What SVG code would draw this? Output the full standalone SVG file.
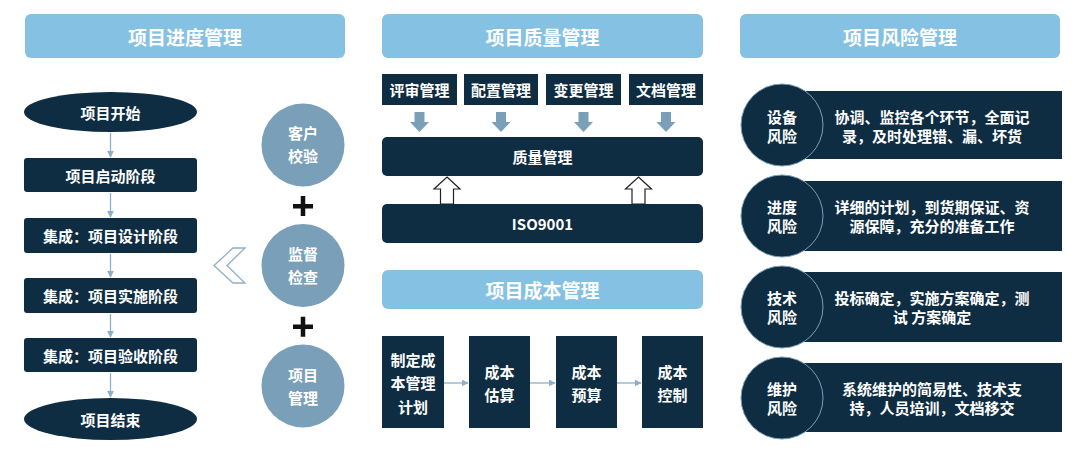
<svg xmlns="http://www.w3.org/2000/svg" width="1080" height="459" viewBox="0 0 1080 459">
<defs>
<style>
text{font-family:"Noto Sans CJK SC","Liberation Sans",sans-serif;font-weight:bold;fill:#fff;text-anchor:middle;dominant-baseline:central}
.hdr{fill:#85C1E3}
.hdr-t{font-size:19px}
.dark{fill:#0F2D42}
.t15{font-size:15px}
.t14{font-size:14.5px}
.circ{fill:#7A9FB8}
.risk-c{fill:#0F2D42;stroke:#7A9FB8;stroke-width:1}
.ln{stroke:#8FAFC6;stroke-width:1.3;fill:none}
.blk{fill:#7A9FB8}
.hol{fill:#fff;stroke:#222;stroke-width:1.2}
.plus{fill:#111}
</style>
<marker id="ah" viewBox="0 0 10 10" refX="9" refY="5" markerWidth="7" markerHeight="7" markerUnits="userSpaceOnUse" orient="auto">
<path d="M0,0 L10,5 L0,10 z" fill="#8FAFC6"/>
</marker>
</defs>
<rect width="1080" height="459" fill="#fff"/>

<!-- headers -->
<g id="hdr-schedule"><rect class="hdr" x="25" y="14" width="320" height="44" rx="6"/><text class="hdr-t" x="185" y="36">项目进度管理</text></g>
<g id="hdr-quality"><rect class="hdr" x="382" y="14" width="321" height="44" rx="6"/><text class="hdr-t" x="542.5" y="36">项目质量管理</text></g>
<g id="hdr-risk"><rect class="hdr" x="740" y="14" width="320" height="44" rx="6"/><text class="hdr-t" x="900" y="36">项目风险管理</text></g>

<!-- left column -->
<g id="start"><ellipse class="dark" cx="110.5" cy="112" rx="86.5" ry="20"/><text class="t15" x="110.5" y="112">项目开始</text></g>
<g id="phase1"><rect class="dark" x="24" y="158" width="173" height="34" rx="3"/><text class="t15" x="110.5" y="175">项目启动阶段</text></g>
<g id="phase2"><rect class="dark" x="24" y="218" width="173" height="35" rx="3"/><text class="t15" x="110.5" y="235.5">集成：项目设计阶段</text></g>
<g id="phase3"><rect class="dark" x="24" y="278" width="173" height="35" rx="3"/><text class="t15" x="110.5" y="295.5">集成：项目实施阶段</text></g>
<g id="phase4"><rect class="dark" x="24" y="338" width="173" height="34" rx="3"/><text class="t15" x="110.5" y="355">集成：项目验收阶段</text></g>
<g id="end"><ellipse class="dark" cx="110.5" cy="419" rx="86.5" ry="21"/><text class="t15" x="110.5" y="419">项目结束</text></g>

<g id="c1"><circle class="circ" cx="303" cy="145" r="41.5"/><text class="t15" x="303" y="132">客户</text><text class="t15" x="303" y="155">校验</text></g>
<g id="plus1"><rect class="plus" x="293" y="204" width="20" height="4.5"/><rect class="plus" x="300.75" y="196" width="4.5" height="20"/></g>
<g id="c2"><circle class="circ" cx="303" cy="265.5" r="41.5"/><text class="t15" x="303" y="253">监督</text><text class="t15" x="303" y="276">检查</text></g>
<g id="plus2"><rect class="plus" x="293" y="324.5" width="20" height="4.5"/><rect class="plus" x="300.75" y="316.75" width="4.5" height="20"/></g>
<g id="c3"><circle class="circ" cx="303" cy="386" r="41.5"/><text class="t15" x="303" y="374">项目</text><text class="t15" x="303" y="397">管理</text></g>
<g id="chevron"><polygon points="233,248 245,248 227,265.5 245,283 233,283 214,265.5" fill="#fff" stroke="#8FAFC6" stroke-width="1.3"/></g>

<!-- quality -->
<g id="q1"><rect class="dark" x="382" y="74" width="75" height="31"/><text class="t15" x="419.5" y="89.5">评审管理</text></g>
<g id="q2"><rect class="dark" x="464" y="74" width="74" height="31"/><text class="t15" x="501" y="89.5">配置管理</text></g>
<g id="q3"><rect class="dark" x="546" y="74" width="75" height="31"/><text class="t15" x="583.5" y="89.5">变更管理</text></g>
<g id="q4"><rect class="dark" x="629" y="74" width="74" height="31"/><text class="t15" x="666" y="89.5">文档管理</text></g>
<g id="qm"><rect class="dark" x="382" y="137" width="321" height="39" rx="5"/><text class="t15" x="542.5" y="156.5">质量管理</text></g>
<g id="iso"><rect class="dark" x="382" y="204" width="321" height="39" rx="5"/><text class="t15" x="542.5" y="223.5">ISO9001</text></g>

<g id="hdr-cost"><rect class="hdr" x="382" y="270" width="321" height="39" rx="6"/><text class="hdr-t" x="542.5" y="289.5">项目成本管理</text></g>
<g id="k1"><rect class="dark" x="382" y="336" width="62" height="92"/><text class="t15" x="413" y="359">制定成</text><text class="t15" x="413" y="382.5">本管理</text><text class="t15" x="413" y="406">计划</text></g>
<g id="k2"><rect class="dark" x="469" y="336" width="61" height="92"/><text class="t15" x="499.5" y="371">成本</text><text class="t15" x="499.5" y="394">估算</text></g>
<g id="k3"><rect class="dark" x="556" y="336" width="61" height="92"/><text class="t15" x="586.5" y="371">成本</text><text class="t15" x="586.5" y="394">预算</text></g>
<g id="k4"><rect class="dark" x="642" y="336" width="61" height="92"/><text class="t15" x="672.5" y="371">成本</text><text class="t15" x="672.5" y="394">控制</text></g>

<!-- risks -->
<g id="r1"><rect class="dark" x="800" y="91" width="262" height="68"/><circle class="risk-c" cx="782" cy="125" r="41"/><text class="t15" x="782" y="116">设备</text><text class="t15" x="782" y="135">风险</text><text class="t15" x="932" y="116">协调、监控各个环节，全面记</text><text class="t15" x="932" y="135">录，及时处理错、漏、坏货</text></g>
<g id="r2"><rect class="dark" x="800" y="181" width="262" height="70"/><circle class="risk-c" cx="782" cy="216" r="41"/><text class="t15" x="782" y="206.5">进度</text><text class="t15" x="782" y="225.5">风险</text><text class="t15" x="932" y="206.5">详细的计划，到货期保证、资</text><text class="t15" x="932" y="225.5">源保障，充分的准备工作</text></g>
<g id="r3"><rect class="dark" x="800" y="272" width="262" height="70"/><circle class="risk-c" cx="782" cy="307" r="41"/><text class="t15" x="782" y="297.5">技术</text><text class="t15" x="782" y="316.5">风险</text><text class="t15" x="932" y="297.5">投标确定，实施方案确定，测</text><text class="t15" x="932" y="316.5">试 方案确定</text></g>
<g id="r4"><rect class="dark" x="800" y="363" width="262" height="69"/><circle class="risk-c" cx="782" cy="398" r="41"/><text class="t15" x="782" y="388.5">维护</text><text class="t15" x="782" y="407.5">风险</text><text class="t15" x="932" y="388.5">系统维护的简易性、技术支</text><text class="t15" x="932" y="407.5">持，人员培训，文档移交</text></g>

<!-- connectors -->
<g id="connectors">
<line class="ln" x1="110.5" y1="133" x2="110.5" y2="157" marker-end="url(#ah)"/>
<line class="ln" x1="110.5" y1="193" x2="110.5" y2="217" marker-end="url(#ah)"/>
<line class="ln" x1="110.5" y1="254" x2="110.5" y2="277" marker-end="url(#ah)"/>
<line class="ln" x1="110.5" y1="314" x2="110.5" y2="337" marker-end="url(#ah)"/>
<line class="ln" x1="110.5" y1="373" x2="110.5" y2="397" marker-end="url(#ah)"/>
<line class="ln" x1="444" y1="383" x2="468" y2="383" marker-end="url(#ah)"/>
<line class="ln" x1="530" y1="383" x2="555" y2="383" marker-end="url(#ah)"/>
<line class="ln" x1="617" y1="383" x2="641" y2="383" marker-end="url(#ah)"/>
<polygon class="blk" points="414.5,112 424.5,112 424.5,122 429,122 419.5,132 410,122 414.5,122"/>
<polygon class="blk" points="496,112 506,112 506,122 510.5,122 501,132 491.5,122 496,122"/>
<polygon class="blk" points="578.5,112 588.5,112 588.5,122 593,122 583.5,132 574,122 578.5,122"/>
<polygon class="blk" points="661,112 671,112 671,122 675.5,122 666,132 656.5,122 661,122"/>
<polygon class="hol" points="447,177 460,189 453.5,189 453.5,204 440.5,204 440.5,189 434,189"/>
<polygon class="hol" points="638.5,177 651.5,189 645,189 645,204 632,204 632,189 625.5,189"/>
</g>
</svg>
